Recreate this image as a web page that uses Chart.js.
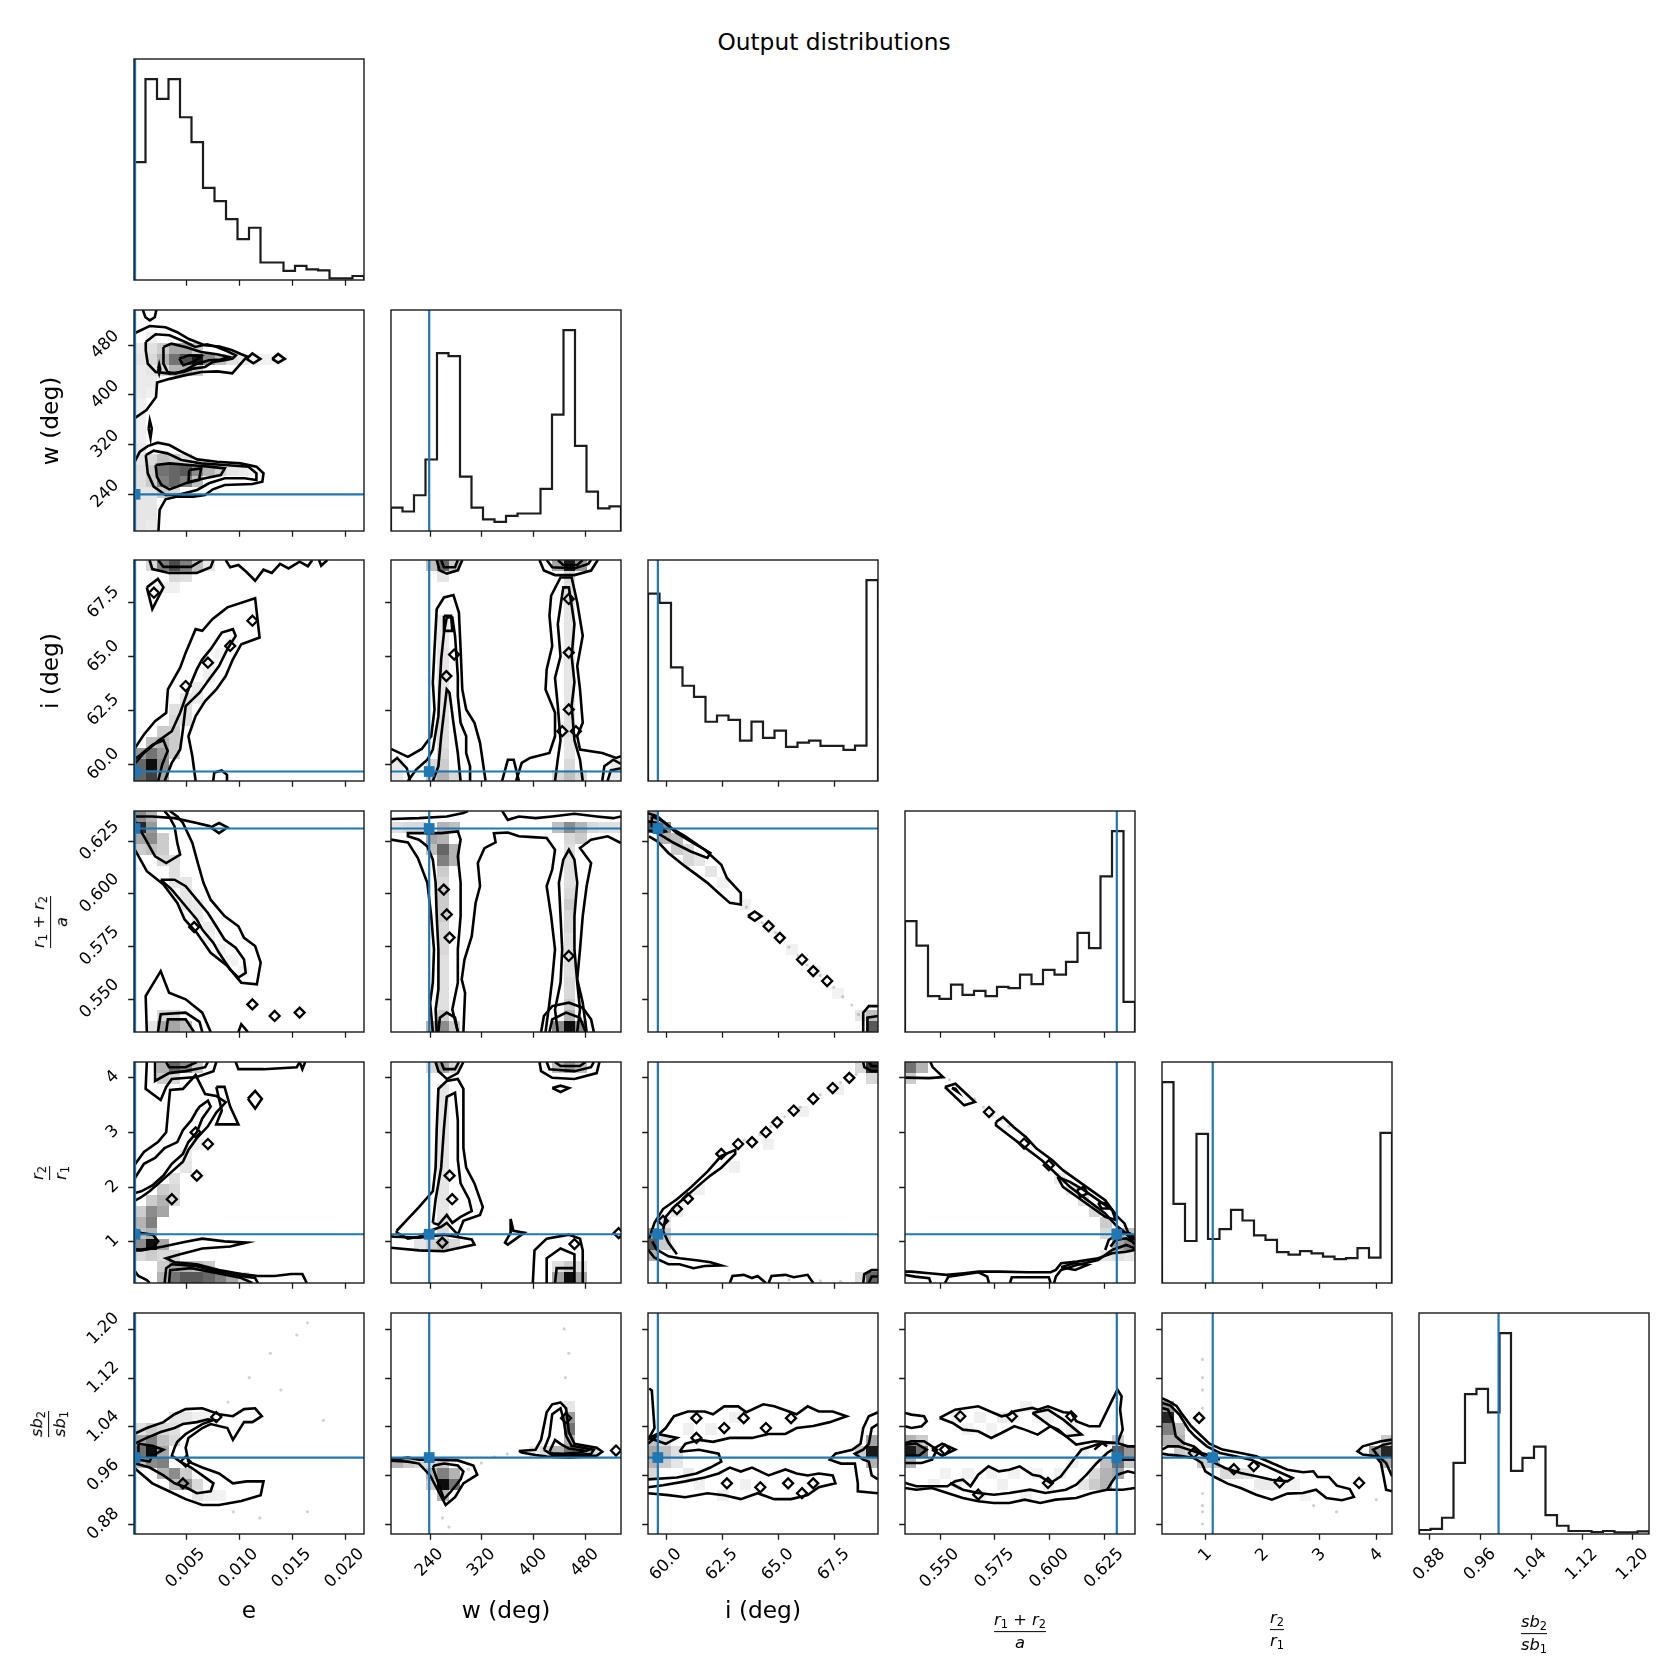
<!DOCTYPE html>
<html><head><meta charset="utf-8">
<script src="https://cdn.jsdelivr.net/npm/chart.js@4.4.1/dist/chart.umd.min.js"></script>
<style>
html,body{margin:0;padding:0;background:#fff;}
#root{position:relative;width:1668px;height:1668px;overflow:hidden;background:#fff;font-family:"DejaVu Sans",sans-serif;color:#000;}
#root canvas{position:absolute;}
.lbl{position:absolute;white-space:nowrap;line-height:1;font-size:23.3px;z-index:5;}
.frac{display:inline-flex;flex-direction:column;align-items:center;font-size:16.3px;line-height:1.15;padding:0 2px;}
.frac .bar{align-self:stretch;height:1.3px;background:#000;margin:1px 0 2px 0;}
.frac i{font-style:italic;}
.frac sub{font-size:11.4px;vertical-align:-0.28em;line-height:0;font-style:normal;}
</style></head><body><div id="root"></div>
<script>
// ================= DATA =================
const paramOrder = ['e','w','i','r','q','s'];

const rangeE = [0.00012, 0.02184];
const rangeW = [180.5, 535.7];
const rangeI = [59.21, 69.47];
const rangeR = [0.5342, 0.6391];
const rangeQ = [0.24, 4.275];
const rangeS = [0.8636, 1.2261];

const ticksE = [0.005, 0.010, 0.015, 0.020];
const tickLabelsE = ['0.005','0.010','0.015','0.020'];
const ticksW = [240, 320, 400, 480];
const tickLabelsW = ['240','320','400','480'];
const ticksI = [60, 62.5, 65, 67.5];
const tickLabelsI = ['60.0','62.5','65.0','67.5'];
const ticksR = [0.55, 0.575, 0.6, 0.625];
const tickLabelsR = ['0.550','0.575','0.600','0.625'];
const ticksQ = [1, 2, 3, 4];
const tickLabelsQ = ['1','2','3','4'];
const ticksS = [0.88, 0.96, 1.04, 1.12, 1.20];
const tickLabelsS = ['0.88','0.96','1.04','1.12','1.20'];

const truthE = 0.00022, truthW = 239.5, truthI = 59.65, truthR = 0.6308, truthQ = 1.13, truthS = 0.989;

const histE = [58.7,100,90.2,100,81.0,68.6,45.9,39.3,30.3,20.3,26.0,8.7,8.7,4.5,7.0,5.3,4.8,0.8,0.8,2.0];
const histW = [11.6,9.7,17.8,35.6,88.5,87.0,27.1,11.6,5.8,4.5,7.5,8.7,8.7,21.0,57.9,100,42.4,19.6,11.3,12.3];
const histI = [93.3,88.7,56.6,47.4,41.9,29.5,32.6,30.4,20.1,29.6,21.5,25.1,17.0,19.1,20.1,17.5,17.5,15.5,17.6,100];
const histR = [55.2,43.0,17.9,16.5,23.6,18.5,20.5,17.9,22.5,21.8,28.6,23.8,30.9,28.6,34.9,49.3,41.7,77.5,100,15.0];
const histQ = [100,39.4,20.9,74.2,21.9,26.8,36.4,31.1,23.7,21.5,15.4,14.1,15.9,14.7,13.1,11.9,12.4,17.4,12.6,74.7];
const histS = [2.0,2.6,8.1,35.4,69.6,72.2,60.5,100,31.4,37.9,43.5,9.4,4.1,1.5,1.5,1.0,1.5,0.8,0.8,1.3];

// ---- 2D panels: contour polylines [x,y], density cells [binX, binY, darkness], small loop markers [x,y]
const contoursWE = [
 [[0.00096,535.7],[0.0012,524],[0.00161,519],[0.00208,524],[0.00223,535.7]],
 [[0.00012,498],[0.0016,510],[0.0031,508],[0.0042,500],[0.0053,489],[0.0068,479],[0.0082,477],[0.0094,471],[0.0102,465],[0.0108,461],[0.0106,457],[0.0094,434],[0.008,437],[0.0065,436],[0.005,431],[0.0035,425],[0.0023,419],[0.0022,396],[0.0013,375],[0.00012,361]],
 [[0.00123,484.3],[0.00216,496.6],[0.00347,495],[0.00496,484.3],[0.0059,476.3],[0.00701,480.5],[0.00795,476.3],[0.00888,469.8],[0.00974,462.9],[0.00944,457.6],[0.00869,454.9],[0.00757,452.2],[0.00683,444.2],[0.00571,441.5],[0.00478,436.2],[0.00347,433.5],[0.00216,436.2],[0.00142,449.5],[0.00123,470.9],[0.00123,484.3]],
 [[0.0029,476.3],[0.00366,481.6],[0.00496,476.3],[0.00646,468.2],[0.00795,464.5],[0.00907,460.2],[0.00832,456],[0.0072,454.9],[0.00608,449.5],[0.00496,438.9],[0.00403,433.5],[0.00328,436.2],[0.0029,449.5],[0.0029,476.3]],
 [[0.0044,457.6],[0.00534,462.9],[0.00646,461.3],[0.00571,452.2],[0.00478,446.9],[0.0044,457.6]],
 [[0.0024,441],[0.0025,448],[0.0026,441],[0.0025,434],[0.0024,441]],
 [[0.01075,457],[0.0113,466],[0.01205,457],[0.0114,450],[0.01075,457]],
 [[0.01317,457],[0.01373,465],[0.01436,457],[0.01373,451],[0.01317,457]],
 [[0.0015,345],[0.00161,358],[0.0018,345],[0.00168,330],[0.0015,345]],
 [[0.00019,291.9],[0.00067,308],[0.00142,317],[0.00235,322.4],[0.00347,318.6],[0.00459,308],[0.00608,295.6],[0.00795,291.9],[0.01019,289.2],[0.01168,283.9],[0.01235,273.2],[0.01224,259.8],[0.01131,256],[0.00869,254.4],[0.00757,247.5],[0.00683,238.4],[0.00571,235.8],[0.00422,235.8],[0.0031,231.5],[0.00254,214.4],[0.00243,180.5]],
 [[0.00123,302.6],[0.00198,309.6],[0.00328,305.3],[0.00459,294.6],[0.00646,289.2],[0.00869,286.5],[0.01093,283.9],[0.01168,273.2],[0.01168,262.5],[0.01056,265.2],[0.00869,265.2],[0.0072,257.2],[0.00608,246.5],[0.00422,238.4],[0.0031,238.4],[0.00198,251.8],[0.00142,273.2],[0.00123,302.6]],
 [[0.00216,286.5],[0.00347,289.2],[0.00534,286.5],[0.0072,283.9],[0.00869,281.2],[0.00832,270.5],[0.00683,265.2],[0.00534,259.8],[0.00422,251.8],[0.00347,247.5],[0.00272,254.5],[0.00228,267.8],[0.00216,286.5]],
 [[0.00534,278.5],[0.00646,281.2],[0.00627,262.5],[0.00526,258.3],[0.00534,278.5]]
];
const cellsWE = [[5,15,0.9],[4,15,0.7],[3,15,0.55],[6,15,0.45],[2,15,0.3],[7,15,0.25],[8,15,0.12],[9,15,0.08],[3,16,0.35],[4,16,0.35],[2,16,0.2],[5,16,0.2],[1,16,0.12],[1,15,0.15],[3,14,0.3],[4,14,0.3],[5,14,0.2],[2,14,0.15],[1,14,0.1],[0,14,0.08],[0,15,0.1],[0,16,0.08],[1,17,0.06],[10,15,0.05],[11,15,0.05],[12,15,0.04],
 [2,5,0.55],[3,5,0.6],[4,5,0.65],[5,5,0.45],[6,5,0.3],[7,5,0.18],[8,5,0.1],[9,5,0.08],[10,5,0.05],[2,4,0.5],[3,4,0.6],[4,4,0.5],[5,4,0.25],[1,4,0.2],[1,5,0.2],[1,6,0.15],[2,6,0.25],[3,6,0.2],[4,6,0.12],[2,3,0.2],[3,3,0.15],[1,3,0.1],[0,3,0.1],[0,2,0.1],[1,2,0.1],[0,1,0.1],[1,1,0.1],[0,0,0.1],[1,0,0.08],[0,4,0.12],[0,5,0.12],[0,6,0.1],[0,7,0.08],[0,8,0.06],[0,9,0.06],[0,10,0.06],[0,11,0.06],[0,12,0.08],[0,13,0.08],[1,12,0.06],[1,13,0.08]];
const markersWE = [];

const contoursIE = [
 [[0.00159,69.47],[0.00185,69.05],[0.00343,68.87],[0.00605,68.87],[0.00736,69.13],[0.00762,69.47]],
 [[0.0024,69.47],[0.0029,69.15],[0.0055,69.15],[0.0066,69.47]],
 [[0.00878,69.47],[0.0092,69.13],[0.00998,69.24],[0.01077,68.9],[0.01156,68.51],[0.01235,69.02],[0.01313,68.87],[0.01392,69.29],[0.01471,69.08],[0.01576,69.39],[0.01654,69.18],[0.01696,69.47]],
 [[0.01759,69.47],[0.0178,69.2],[0.01838,69.47]],
 [[0.00133,68.2],[0.00238,68.59],[0.0029,68.2],[0.00185,67.19],[0.00133,68.2]],
 [[0.00012,60.67],[0.00106,61.37],[0.00211,61.99],[0.00316,62.38],[0.00332,63.46],[0.00448,64.47],[0.005,65.17],[0.00594,66.26],[0.00657,66.18],[0.00752,66.72],[0.00894,67.27],[0.01156,67.69],[0.01198,65.87],[0.01025,65.56],[0.00946,64.86],[0.00878,64.08],[0.00789,63.46],[0.00684,62.92],[0.00594,62.22],[0.00526,61.29],[0.00563,60.36],[0.00594,59.21]],
 [[0.00012,59.97],[0.00106,60.51],[0.00238,61.06],[0.00369,61.52],[0.00448,62.38],[0.00526,63.46],[0.00605,64.39],[0.00657,64.86],[0.00736,65.33],[0.00841,66.1],[0.00946,66.26],[0.00972,65.95],[0.00894,65.33],[0.00815,64.55],[0.0071,63.85],[0.00631,63.31],[0.005,62.69],[0.00474,61.6],[0.00448,60.67],[0.00369,60.05],[0.00301,59.21]],
 [[0.00012,60.2],[0.0008,60.45],[0.0019,60.9],[0.0029,61.1],[0.0033,60.6],[0.0028,60.0],[0.0024,59.21]],
 [[0.0076,59.21],[0.0077,59.6],[0.0084,59.7],[0.0089,59.5],[0.0089,59.21]]
];
const cellsIE = [[1,1,0.95],[0,1,0.6],[1,0,0.75],[0,0,0.6],[2,1,0.45],[2,0,0.35],[1,2,0.55],[0,2,0.4],[2,2,0.4],[3,2,0.2],[1,3,0.25],[2,3,0.3],[3,3,0.2],[2,4,0.2],[3,4,0.2],[3,5,0.15],[4,5,0.12],[3,6,0.12],[4,6,0.12],[4,7,0.1],[5,7,0.08],[5,8,0.08],[6,9,0.06],[6,10,0.05],[7,11,0.05],[8,12,0.04],[2,19,0.5],[3,19,0.7],[4,19,0.5],[5,19,0.25],[1,19,0.15],[6,19,0.1],[3,18,0.15],[4,18,0.12],[2,17,0.06],[3,17,0.06]];
const markersIE = [[0.005,63.62],[0.0071,64.7],[0.0092,65.48],[0.0113,66.65],[0.002,67.95]];

const contoursIW = [
 [[180.5,60.7],[206.6,60.33],[228,60.7],[242.6,61.29],[247.7,62.53],[245.1,63.77],[247.7,65.33],[251.1,67.19],[262.3,67.73],[276.9,67.84],[285.4,67.03],[288,65.33],[290.6,63.46],[296.6,62.53],[309.4,61.91],[318,60.98],[326.6,59.21]],
 [[206.6,59.21],[219.4,59.74],[236.6,60.2],[245.1,60.67],[253.7,62.22],[255.4,63.46],[258,64.86],[262.3,66.1],[266.6,66.8],[275.2,66.8],[279.4,65.95],[283.7,64.08],[283.7,63.15],[288,61.91],[296.6,61.29],[296.6,60.51],[302.6,59.89],[302.6,59.21]],
 [[245.1,59.21],[253.7,59.9],[258,61.29],[266.6,63.46],[270.9,63.3],[276.9,61.91],[283.7,60.5],[288,59.21]],
 [[251.1,69.47],[255.4,68.99],[266.6,68.84],[283.7,68.99],[290.6,69.47]],
 [[258,69.47],[262.3,69.13],[279.4,69.13],[283.7,69.47]],
 [[262.3,66.88],[273.3,66.88],[275.2,66.18],[262.3,66.18],[262.3,66.88]],
 [[409.8,69.47],[416.6,68.98],[433.8,68.77],[463.8,68.77],[489.5,68.98],[499.8,69.47]],
 [[420.9,69.47],[429.5,69.13],[463.8,69.08],[485.2,69.29],[489.5,69.47]],
 [[438.1,69.47],[446.6,69.24],[468.1,69.24],[476.6,69.47]],
 [[373.7,59.21],[382.3,60.05],[395.2,60.28],[425.2,60.51],[433.8,61.29],[433.8,62.38],[419.2,63.46],[420.9,64.39],[429.5,65.48],[425.2,66.88],[427.8,67.81],[442.3,68.66],[459.5,68.66],[468.1,67.5],[476.6,65.95],[468.1,64.55],[472.4,63.46],[476.6,61.91],[468.1,61.29],[472.4,60.67],[506.7,60.51],[528.1,60.28],[535.7,60.36]],
 [[433.8,59.21],[438,60.2],[442.3,61.1],[438.1,62.7],[433.8,64.0],[442.3,65.0],[438.1,66.5],[446.6,68.2],[455.2,68.2],[463.8,66.5],[459.5,65.0],[463.8,63.8],[459.5,62.7],[463.8,61.1],[472.4,60.2],[476.6,59.21]],
 [[352,59.21],[361,60.2],[370,60.2],[378,59.21]],
 [[506.7,59.21],[510,59.9],[523.8,60.2],[535.7,60.0]],
 [[515,59.21],[520,59.7],[535.7,59.8]],
 [[180.5,60.05],[190,60.28],[205,59.8],[210,59.21]]
];
const cellsIW = [[4,19,0.6],[3,19,0.25],[5,19,0.2],[15,19,0.9],[14,19,0.35],[16,19,0.4],[15,18,0.15],[4,18,0.1],[4,0,0.3],[3,0,0.2],[5,0,0.15],[4,1,0.2],[3,1,0.15],[4,2,0.15],[4,3,0.12],[4,4,0.12],[4,5,0.12],[4,6,0.1],[4,7,0.1],[4,8,0.1],[4,9,0.1],[4,10,0.1],[4,11,0.1],[4,12,0.08],[4,13,0.08],[4,14,0.08],[15,0,0.25],[14,0,0.15],[16,0,0.15],[15,1,0.15],[15,2,0.1],[15,3,0.1],[15,4,0.12],[15,5,0.12],[15,6,0.12],[15,7,0.1],[15,8,0.1],[15,9,0.1],[15,10,0.1],[15,11,0.1],[15,12,0.1],[15,13,0.1],[15,14,0.1],[15,15,0.1],[15,16,0.12],[15,17,0.12],[0,0,0.08],[0,1,0.08],[19,0,0.08],[19,1,0.08]];
const markersIW = [[278,65.08],[266,64.08],[455,67.66],[455,65.17],[455,62.53],[445,61.52],[466,61.52]];

const contoursRE = [
 [[0.00012,0.6365],[0.00185,0.6365],[0.00395,0.6357],[0.00605,0.6334],[0.00736,0.6318]],
 [[0.00736,0.6313],[0.00815,0.6334],[0.00894,0.6313],[0.00815,0.6286],[0.00736,0.6313]],
 [[0.00012,0.6215],[0.00133,0.6105],[0.0029,0.6042],[0.00421,0.5955],[0.0049,0.5876],[0.00605,0.5813],[0.00736,0.5718],[0.00894,0.5655],[0.01025,0.5576],[0.01172,0.5568],[0.01208,0.5671],[0.01156,0.575],[0.01051,0.5789],[0.00998,0.5844],[0.00867,0.5892],[0.00736,0.597],[0.00668,0.605],[0.00615,0.6144],[0.00563,0.6239],[0.00474,0.6334],[0.00421,0.6365],[0.0035,0.6391]],
 [[0.00012,0.6349],[0.00106,0.6271],[0.00211,0.6176],[0.00316,0.6144],[0.00448,0.6184],[0.00421,0.6239],[0.00395,0.6318],[0.00343,0.6365],[0.003,0.6391]],
 [[0.00264,0.6065],[0.00369,0.6018],[0.005,0.5939],[0.00605,0.5876],[0.00657,0.5828],[0.00762,0.5765],[0.00815,0.5718],[0.0092,0.5639],[0.00998,0.56],[0.01067,0.5623],[0.01051,0.5686],[0.00972,0.5742],[0.00867,0.5781],[0.00789,0.5844],[0.0071,0.5907],[0.00605,0.597],[0.005,0.6034],[0.00395,0.6065],[0.00264,0.6065]],
 [[0.00133,0.5342],[0.00122,0.5513],[0.00264,0.5631],[0.00343,0.5528],[0.005,0.5497],[0.00657,0.5434],[0.00736,0.5342]],
 [[0.00238,0.5342],[0.00264,0.5426],[0.005,0.5434],[0.00631,0.539],[0.00657,0.5342]],
 [[0.00316,0.5342],[0.00332,0.5402],[0.005,0.5402],[0.00579,0.5342]],
 [[0.00998,0.5342],[0.01025,0.5379],[0.01088,0.5342]]
];
const cellsRE = [[0,18,0.85],[1,18,0.4],[0,19,0.45],[1,19,0.3],[0,17,0.35],[1,17,0.45],[2,17,0.2],[1,16,0.25],[2,16,0.2],[0,16,0.2],[2,15,0.15],[3,15,0.12],[3,14,0.12],[3,13,0.1],[4,13,0.1],[4,12,0.1],[4,11,0.1],[5,11,0.08],[5,10,0.08],[6,9,0.07],[6,8,0.06],[7,7,0.06],[8,6,0.05],[9,5,0.05],[2,0,0.35],[3,0,0.35],[4,0,0.25],[2,1,0.15],[3,1,0.15],[1,0,0.1]];
const markersRE = [[0.0058,0.584],[0.0113,0.5473],[0.0134,0.5418],[0.01576,0.5434]];

const contoursRW = [
 [[180.5,0.6353],[223.7,0.6357],[266.6,0.6365],[292.3,0.6381],[299.2,0.6391]],
 [[352.3,0.6391],[360.9,0.6349],[378,0.6365],[403.8,0.6357],[429.5,0.6365],[463.8,0.6378],[498.1,0.6365],[523.8,0.6357],[535.7,0.6365]],
 [[180.5,0.6255],[206.6,0.6242],[222,0.6168],[236.6,0.605],[242.6,0.5892],[246.9,0.5734],[245.1,0.5576],[240.9,0.5481],[245.1,0.5342]],
 [[292.3,0.5342],[294.9,0.5528],[289.7,0.5592],[294,0.5686],[305.2,0.5797],[311.2,0.5955],[318,0.6034],[314.6,0.6144],[324.9,0.6215],[342,0.6242],[339.5,0.6286],[360.9,0.6289],[378,0.6271],[399.5,0.6267],[420.9,0.6263],[433.8,0.6207],[429.5,0.6113],[420.9,0.6034],[427.8,0.5892],[433.8,0.5734],[429.5,0.5592],[425.2,0.5481],[419.2,0.5342]],
 [[482.6,0.5342],[476.6,0.5481],[468.1,0.5592],[472.4,0.5734],[476.6,0.5892],[482.6,0.6034],[489.5,0.6144],[472.4,0.6215],[489.5,0.6255],[515.2,0.6271],[535.7,0.6239]],
 [[251.1,0.5342],[249.4,0.5449],[253.7,0.5545],[253.7,0.5734],[251.1,0.5892],[249.4,0.605],[245.1,0.616],[236.6,0.6223],[223.7,0.6255],[206.6,0.6271],[206.6,0.6286],[258,0.6286],[283.7,0.6294],[288,0.6255],[283.7,0.6176],[288,0.605],[288,0.5892],[283.7,0.5734],[283.7,0.5576],[275.2,0.5449],[283.7,0.5342]],
 [[438.1,0.5342],[433.8,0.5449],[442.3,0.5576],[444.9,0.5734],[442.3,0.5892],[439.8,0.605],[446.6,0.616],[455.2,0.6207],[463.8,0.616],[468.1,0.605],[463.8,0.5892],[463.8,0.5734],[468.1,0.5576],[472.4,0.5449],[468.1,0.5342]],
 [[412.3,0.5342],[416.6,0.5418],[429.5,0.5465],[455.2,0.5481],[476.6,0.5457],[489.5,0.5402],[493.8,0.5342]],
 [[425.2,0.5342],[429.5,0.5402],[450.9,0.5434],[472.4,0.541],[481,0.5342]],
 [[253.7,0.5342],[256,0.541],[266.6,0.5434],[279.4,0.541],[283.7,0.5342]]
];
const cellsRW = [[4,0,0.45],[3,0,0.3],[5,0,0.2],[15,0,0.95],[14,0,0.45],[16,0,0.45],[15,1,0.3],[4,1,0.2],[4,16,0.6],[5,16,0.3],[3,16,0.25],[3,17,0.35],[4,17,0.3],[4,18,0.3],[5,18,0.25],[2,18,0.15],[1,18,0.15],[0,18,0.12],[15,18,0.45],[16,18,0.3],[14,18,0.25],[16,17,0.2],[17,18,0.15],[18,18,0.12],[19,18,0.12],[4,15,0.5],[5,15,0.3],[4,14,0.2],[4,13,0.15],[4,12,0.2],[4,11,0.2],[4,10,0.2],[4,9,0.15],[4,8,0.15],[4,7,0.15],[4,6,0.12],[4,5,0.12],[4,4,0.12],[4,3,0.12],[4,2,0.12],[15,17,0.15],[15,16,0.12],[15,15,0.12],[15,14,0.12],[15,13,0.12],[15,12,0.15],[15,11,0.2],[15,10,0.15],[15,9,0.15],[15,8,0.12],[15,7,0.12],[15,6,0.12],[15,5,0.12],[15,4,0.15],[15,3,0.15],[15,2,0.2]];
const markersRW = [[262,0.6018],[266.6,0.59],[270.9,0.579],[455,0.5703]];

const contoursRI = [
 [[59.21,0.6381],[59.63,0.6365],[60.25,0.631],[60.87,0.6271],[61.74,0.6207],[62.48,0.6136],[62.73,0.6073],[63.35,0.6002],[63.35,0.5947],[62.86,0.5955],[62.36,0.6002],[61.86,0.605],[61.37,0.6089],[60.87,0.6128],[60.12,0.6192],[59.63,0.6247],[59.25,0.6271]],
 [[59.38,0.6365],[59.88,0.6342],[60.5,0.6286],[61.24,0.6239],[61.99,0.6192],[61.86,0.6168],[61.12,0.6199],[60.37,0.6239],[59.88,0.6271],[59.38,0.6302],[59.38,0.6365]],
 [[59.21,0.6342],[59.63,0.6334],[60.0,0.6294],[59.63,0.6286],[59.21,0.6302]],
 [[63.67,0.5892],[63.97,0.5914],[64.27,0.5892],[63.97,0.587],[63.67,0.5892]],
 [[68.81,0.5342],[68.81,0.5434],[69.06,0.5465],[69.47,0.5465]],
 [[69.0,0.5342],[69.0,0.541],[69.47,0.5418]]
];
const cellsRI = [[0,18,0.65],[1,18,0.45],[0,19,0.3],[1,17,0.3],[2,17,0.25],[2,16,0.2],[3,16,0.15],[3,15,0.15],[4,15,0.1],[5,14,0.1],[19,0,0.65],[19,1,0.25],[18,1,0.1],[6,13,0.06],[8,11,0.06],[10,9,0.05],[12,7,0.05],[14,5,0.05],[16,3,0.05]];
const markersRI = [[64.59,0.5844],[65.09,0.5789],[66.08,0.5686],[66.58,0.5631],[67.2,0.5584]];
const dotsRI = [[63.6,0.5935],[64.3,0.586],[64.9,0.5815],[65.5,0.5745],[65.9,0.5705],[66.3,0.566],[66.9,0.561],[67.5,0.5555],[67.9,0.551],[68.3,0.547],[68.6,0.5425]];

const contoursQE = [
 [[0.00133,4.275],[0.00122,3.784],[0.00264,3.582],[0.00316,3.82],[0.00369,3.964],[0.00605,4.0],[0.00762,4.108],[0.00789,4.275]],
 [[0.00211,4.275],[0.00211,3.928],[0.00343,4.072],[0.005,4.108],[0.00684,4.18],[0.0071,4.275]],
 [[0.00316,4.275],[0.00343,4.18],[0.005,4.18],[0.00605,4.275]],
 [[0.00972,4.275],[0.00998,4.144],[0.01235,4.144],[0.01549,4.18],[0.01576,4.275]],
 [[0.01576,4.275],[0.01602,4.144],[0.01628,4.275]],
 [[0.00789,3.82],[0.00867,3.82],[0.0092,3.46],[0.00998,3.137],[0.00789,3.137],[0.00841,3.389],[0.00789,3.82]],
 [[0.01088,3.604],[0.01156,3.748],[0.01219,3.604],[0.01156,3.424],[0.01088,3.604]],
 [[0.00012,2.381],[0.00106,2.633],[0.00238,2.813],[0.00316,2.993],[0.00343,3.568],[0.00353,3.763],[0.00474,3.784],[0.00594,4.036],[0.00684,3.691],[0.00789,3.655],[0.00878,3.54],[0.00789,3.353],[0.0071,3.101],[0.00605,2.885],[0.00526,2.669],[0.00474,2.453],[0.00369,2.273],[0.00264,2.094],[0.00159,1.914],[0.0008,1.806],[0.00012,1.734]],
 [[0.00012,2.129],[0.00106,2.417],[0.00211,2.525],[0.00301,2.705],[0.00421,2.813],[0.00474,3.029],[0.00552,3.209],[0.00605,3.389],[0.00631,3.46],[0.0071,3.568],[0.00736,3.46],[0.00657,3.245],[0.00605,2.993],[0.00526,2.813],[0.00474,2.597],[0.00369,2.417],[0.0029,2.201],[0.00185,2.022],[0.0008,1.914],[0.00012,1.878]],
 [[0.00012,0.835],[0.0008,0.835],[0.0029,0.906],[0.005,0.993],[0.00657,1.05],[0.00867,1.0],[0.01077,0.978],[0.0092,0.906],[0.00657,0.87],[0.00448,0.763],[0.00316,0.691],[0.00395,0.619],[0.00605,0.583],[0.00815,0.475],[0.01025,0.403],[0.01182,0.367],[0.0134,0.367],[0.01497,0.403],[0.01602,0.403],[0.01644,0.24]],
 [[0.00012,0.475],[0.00054,0.367],[0.00133,0.295],[0.00159,0.24]],
 [[0.00301,0.24],[0.00316,0.511],[0.00369,0.583],[0.00605,0.547],[0.00815,0.439],[0.01025,0.367],[0.01156,0.331],[0.01182,0.24]],
 [[0.00343,0.24],[0.00353,0.475],[0.00552,0.511],[0.00789,0.421],[0.01025,0.331],[0.0113,0.24]],
 [[0.00012,1.23],[0.0008,1.15],[0.0019,1.12],[0.0024,1.0],[0.0019,0.88],[0.0008,0.85],[0.00012,0.86]]
];
const cellsQE = [[1,3,0.95],[0,3,0.45],[2,3,0.35],[1,4,0.3],[0,4,0.25],[1,5,0.5],[0,5,0.3],[1,6,0.45],[2,6,0.35],[0,6,0.2],[2,7,0.3],[1,7,0.2],[3,7,0.15],[2,8,0.2],[3,8,0.15],[3,9,0.12],[4,10,0.1],[4,11,0.08],[5,12,0.06],[3,0,0.55],[4,0,0.65],[5,0,0.65],[6,0,0.6],[7,0,0.5],[8,0,0.35],[2,0,0.3],[9,0,0.15],[3,1,0.35],[4,1,0.3],[5,1,0.25],[6,1,0.2],[2,1,0.2],[2,2,0.15],[3,2,0.15],[0,2,0.15],[1,2,0.2],[3,19,0.6],[4,19,0.45],[2,19,0.3],[5,19,0.2],[2,18,0.2],[3,18,0.15]];
const markersQE = [[0.00594,2.99],[0.0071,2.777],[0.00605,2.2],[0.00369,1.77]];

const contoursQW = [
 [[249.4,4.275],[253.7,4.108],[266.6,3.964],[283.7,4.072],[292.3,4.275]],
 [[258,4.275],[262.3,4.144],[279.4,4.144],[285.4,4.275]],
 [[409.8,4.275],[412.3,4.108],[429.5,3.986],[463.8,3.964],[498.1,4.072],[502.4,4.275]],
 [[420.9,4.275],[425.2,4.144],[463.8,4.108],[489.5,4.18],[493.8,4.275]],
 [[433.8,4.275],[442.3,4.201],[472.4,4.201],[481,4.275]],
 [[429.5,3.799],[442.3,3.842],[455.2,3.799],[442.3,3.727],[429.5,3.799]],
 [[189.4,1.194],[206.6,1.41],[223.7,1.626],[245.1,1.914],[249.4,2.345],[251.1,3.065],[253.7,3.784],[266.6,3.928],[283.7,3.964],[292.3,3.784],[292.3,2.705],[296.6,2.345],[309.4,2.058],[322.3,1.626],[318,1.482],[292.3,1.374],[283.7,1.122],[266.6,1.338],[258,1.266],[240.9,1.194],[223.7,1.086],[206.6,1.05],[189.4,1.158],[189.4,1.194]],
 [[245.1,1.338],[249.4,1.77],[258,2.345],[262.3,3.065],[266.6,3.64],[279.4,3.712],[283.7,3.209],[283.7,2.489],[288,2.058],[300.9,1.77],[305.2,1.554],[288,1.446],[275.2,1.338],[266.6,1.482],[253.7,1.302],[245.1,1.338]],
 [[180.5,0.885],[223.7,0.835],[262.3,0.82],[309.4,0.942],[305.2,1.036],[262.3,1.122],[223.7,1.065],[185.1,1.086],[180.5,1.09]],
 [[365.2,1.41],[369.5,1.194],[386.6,1.158],[378,1.086],[360.9,0.942],[356.6,0.978],[365.2,1.158],[365.2,1.41]],
 [[399.5,0.24],[402.1,0.835],[420.9,1.05],[455.2,1.122],[472.4,1.05],[476.6,0.835],[476.6,0.24]],
 [[420.9,0.24],[420.9,0.691],[442.3,0.871],[463.8,0.763],[463.8,0.24]],
 [[433.8,0.24],[436.3,0.511],[463.8,0.511]]
];
const cellsQW = [[15,0,0.95],[14,0,0.35],[16,0,0.35],[15,1,0.2],[14,1,0.12],[16,1,0.12],[4,19,0.35],[3,19,0.15],[5,19,0.15],[15,19,0.4],[14,19,0.25],[16,19,0.25],[4,3,0.25],[3,3,0.18],[5,3,0.15],[2,3,0.1],[4,4,0.15],[4,5,0.12],[4,6,0.1],[4,7,0.1],[4,8,0.1],[4,9,0.1],[4,10,0.1],[4,11,0.1],[4,12,0.1],[4,13,0.1],[4,14,0.1],[4,15,0.1],[4,16,0.1],[4,17,0.1]];
const markersQW = [[271,2.2],[275,1.77],[463.8,0.95],[259.7,0.978],[532,1.15]];

const contoursQI = [
 [[59.26,1.05],[59.5,1.338],[59.88,1.59],[60.5,1.77],[61.12,1.986],[61.86,2.273],[62.48,2.561],[63.1,2.669],[63.1,2.597],[62.48,2.345],[61.99,2.201],[61.37,1.986],[60.87,1.806],[60.37,1.626],[60.0,1.446],[59.88,1.194],[60.12,0.978],[60.5,0.763]],
 [[59.21,0.85],[59.5,0.7],[60.12,0.583],[60.62,0.583],[61.24,0.511],[61.74,0.55],[62.48,0.561],[62.0,0.62],[61.37,0.655],[60.62,0.691],[60.12,0.727],[59.6,0.85],[59.4,1.0]],
 [[68.81,4.275],[68.86,4.18],[69.19,4.108],[69.47,4.108]],
 [[69.06,4.275],[69.19,4.2],[69.47,4.2]],
 [[68.81,0.24],[68.86,0.403],[69.19,0.475],[69.47,0.475]],
 [[69.06,0.24],[69.19,0.36],[69.47,0.36]],
 [[62.86,0.24],[62.98,0.367],[63.48,0.389],[63.85,0.331],[64.1,0.367],[64.47,0.24]],
 [[64.59,0.24],[64.72,0.367],[65.34,0.389],[65.71,0.346],[66.33,0.389],[66.58,0.24]]
];
const cellsQI = [[0,3,0.65],[0,4,0.4],[1,4,0.2],[0,2,0.3],[1,3,0.2],[19,19,0.8],[19,0,0.6],[18,19,0.15],[19,18,0.15],[18,0,0.12],[1,5,0.1],[2,6,0.08],[4,8,0.06],[7,10,0.06],[10,12,0.06],[13,15,0.06],[16,17,0.06]];
const markersQI = [[59.88,1.374],[60.5,1.59],[60.99,1.78],[62.48,2.597],[63.23,2.777],[63.85,2.813],[64.47,2.993],[64.97,3.173],[65.71,3.389],[66.58,3.604],[67.45,3.8],[68.19,3.986]];
const dotsQI = [[63.5,2.85],[64.2,2.95],[64.7,3.1],[65.3,3.28],[66.0,3.45],[66.9,3.68],[67.8,3.9],[68.5,4.05],[65.5,0.3],[66.9,0.28],[67.8,0.27]];

const contoursQR = [
 [[0.5458,4.275],[0.5468,4.182],[0.5516,4.0],[0.5452,3.98],[0.5342,3.99]],
 [[0.5524,3.818],[0.5572,3.879],[0.5661,3.545],[0.5612,3.484],[0.5524,3.818]],
 [[0.5556,3.8],[0.5572,3.787],[0.5583,3.727],[0.5556,3.8]],
 [[0.5757,3.18],[0.5789,3.271],[0.5837,3.089],[0.5893,2.907],[0.5942,2.695],[0.6014,2.482],[0.6062,2.3],[0.6126,2.118],[0.619,1.936],[0.6255,1.753],[0.6311,1.45],[0.6343,1.328],[0.6367,1.086],[0.6391,1.025]],
 [[0.6391,0.934],[0.6351,1.146],[0.6303,1.298],[0.6255,1.51],[0.6174,1.753],[0.6094,1.996],[0.603,2.239],[0.5966,2.482],[0.5885,2.725],[0.5805,2.968],[0.5757,3.12],[0.5757,3.18]],
 [[0.6038,2.178],[0.6094,2.087],[0.6158,1.936],[0.6223,1.753],[0.6287,1.571],[0.6303,1.389],[0.6255,1.45],[0.619,1.632],[0.6126,1.814],[0.6062,1.996],[0.6038,2.178]],
 [[0.6126,1.936],[0.6158,1.996],[0.6174,1.875],[0.6142,1.814],[0.6126,1.936]],
 [[0.6223,1.7],[0.6255,1.7],[0.627,1.6],[0.6239,1.6],[0.6223,1.7]],
 [[0.6391,0.843],[0.6351,0.813],[0.6287,0.782],[0.6223,0.691],[0.6126,0.63],[0.6054,0.6],[0.603,0.479],[0.6006,0.436],[0.5901,0.436],[0.5773,0.448],[0.5677,0.448],[0.5612,0.418],[0.5532,0.388],[0.5452,0.418],[0.5372,0.448],[0.5342,0.448]],
 [[0.6391,0.873],[0.6351,0.934],[0.6287,0.843],[0.6223,0.661],[0.6126,0.57],[0.6054,0.479],[0.603,0.357],[0.6022,0.24]],
 [[0.5342,0.388],[0.5388,0.357],[0.5452,0.327],[0.546,0.24]],
 [[0.5524,0.24],[0.554,0.357],[0.5677,0.436],[0.5717,0.357],[0.5725,0.24]],
 [[0.5821,0.24],[0.5829,0.345],[0.5998,0.345],[0.6006,0.24]],
 [[0.6054,0.527],[0.611,0.6],[0.6174,0.57],[0.6118,0.479],[0.6054,0.527]],
 [[0.6255,0.843],[0.6271,1.025],[0.6319,1.146],[0.6367,1.146],[0.6391,1.056]],
 [[0.6279,0.904],[0.6303,1.025],[0.6351,1.056],[0.6391,0.964]]
];
const cellsQR = [[0,19,0.55],[1,19,0.3],[0,18,0.2],[18,3,0.35],[19,3,0.45],[18,4,0.3],[19,4,0.25],[17,4,0.15],[17,5,0.2],[16,6,0.15],[15,7,0.12],[14,8,0.1],[13,9,0.08],[18,2,0.12],[17,2,0.1],[19,2,0.1]];
const markersQR = [[0.5725,3.362],[0.5885,2.786],[0.5998,2.391]];
const dotsQR = [[0.5545,3.95],[0.566,3.6],[0.57,3.45],[0.574,3.3],[0.578,3.22],[0.5815,3.1]];

const contoursSE = [
 [[0.00012,1.0277],[0.00133,1.0374],[0.0029,1.0471],[0.00395,1.0601],[0.005,1.0685],[0.00657,1.0698],[0.00815,1.0601],[0.00946,1.0568],[0.01051,1.0685],[0.01156,1.0698],[0.01219,1.0568],[0.0113,1.0471],[0.01051,1.0471],[0.00946,1.018],[0.00894,1.0374],[0.00736,1.0439],[0.00657,1.0374],[0.00526,1.0212],[0.005,1.005],[0.00526,0.9823],[0.00657,0.9726],[0.00815,0.9629],[0.00946,0.9467],[0.01077,0.9499],[0.01235,0.9499],[0.01208,0.9273],[0.01025,0.9176],[0.00815,0.9111],[0.00657,0.9111],[0.005,0.9208],[0.00343,0.9337],[0.00185,0.9467],[0.00054,0.9661],[0.00012,0.9726]],
 [[0.00012,1.0115],[0.00133,1.0212],[0.00264,1.0309],[0.00395,1.0374],[0.00474,1.0439],[0.00605,1.0471],[0.0071,1.0517],[0.00762,1.0504],[0.00657,1.0439],[0.005,1.0277],[0.00421,1.0147],[0.00395,1.005],[0.00369,0.9921],[0.00448,0.9823],[0.00552,0.9726],[0.00657,0.9597],[0.00762,0.9467],[0.00736,0.9337],[0.00605,0.9305],[0.005,0.9402],[0.00395,0.9467],[0.0029,0.9597],[0.00159,0.9726],[0.00028,0.9791],[0.00012,0.9823]],
 [[0.00054,1.0115],[0.00185,1.0083],[0.0029,1.0018],[0.00185,0.9921],[0.00159,0.9823],[0.00054,0.9856],[0.00054,1.0115]]
];
const cellsSE = [[1,7,0.95],[0,7,0.55],[1,8,0.5],[0,8,0.35],[2,7,0.35],[1,6,0.45],[2,6,0.5],[3,5,0.45],[2,5,0.3],[4,4,0.4],[3,4,0.25],[4,5,0.2],[2,8,0.25],[3,8,0.15],[1,9,0.2],[2,9,0.15],[3,9,0.12],[4,10,0.1],[3,10,0.1],[5,4,0.15],[5,3,0.1],[0,6,0.25],[0,9,0.12],[5,10,0.06],[6,10,0.05],[6,3,0.06],[7,3,0.05]];
const markersSE = [[0.00789,1.0555],[0.005,0.9823],[0.00474,0.9467]];
const dotsSE = [[0.009,1.08],[0.011,1.12],[0.013,1.16],[0.0155,1.19],[0.0165,1.21],[0.014,1.1],[0.018,1.05],[0.0095,0.9],[0.012,0.89],[0.0165,0.9]];

const contoursSW = [
 [[180.5,0.9837],[206.6,0.9823],[223.7,0.9791],[240.9,0.9597],[253.7,0.9337],[264.9,0.9111],[279.4,0.924],[292.3,0.9467],[313.7,0.961],[307.7,0.9759],[283.7,0.9843],[249.4,0.9856],[223.7,0.9856],[206.6,0.9888],[180.5,0.9856]],
 [[245.1,0.9726],[253.7,0.9467],[262.3,0.9208],[273.4,0.9337],[288,0.9532],[292.3,0.9661],[283.7,0.9759],[262.3,0.9791],[247.7,0.9759],[245.1,0.9726]],
 [[378,0.9998],[403.8,1.0018],[412.3,1.018],[420.9,1.0633],[429.5,1.0763],[442.3,1.0795],[450.9,1.0698],[455.2,1.0309],[463.8,1.0115],[498.1,1.005],[506.7,0.9985],[498.1,0.9921],[455.2,0.9888],[420.9,0.9908],[403.8,0.9933],[382.3,0.9972],[378,0.9998]],
 [[416.6,1.0018],[425.2,1.0245],[429.5,1.0601],[442.3,1.0698],[446.6,1.0536],[450.9,1.0245],[459.5,1.0083],[493.8,1.0018],[489.5,0.9953],[455.2,0.9921],[429.5,0.9933],[416.6,1.0018]],
 [[425.2,0.9985],[433.8,1.018],[442.3,1.0115],[455.2,1.0037],[481,0.9998],[472.4,0.9972],[446.6,0.9953],[429.5,0.9959],[425.2,0.9985]]
];
const cellsSW = [[4,4,0.95],[5,4,0.55],[4,5,0.5],[5,5,0.3],[3,5,0.3],[4,3,0.3],[3,4,0.2],[4,6,0.2],[3,6,0.15],[0,6,0.3],[1,6,0.2],[2,6,0.15],[15,7,0.55],[16,7,0.35],[14,7,0.3],[13,7,0.15],[17,7,0.12],[15,9,0.55],[15,10,0.4],[15,8,0.3],[15,11,0.1],[12,7,0.08]];
const markersSW = [[528,1.0005],[450.9,1.0536]];
const dotsSW = [[300,0.97],[320,0.98],[340,0.99],[360,0.995],[450,1.12],[455,1.16],[448,1.2],[260,0.89],[270,0.875]];

const contoursSI = [
 [[59.21,1.0115],[60.0,1.0374],[60.37,1.0568],[60.99,1.0646],[61.74,1.0646],[62.11,1.0601],[62.61,1.073],[63.23,1.073],[63.6,1.0633],[64.35,1.0763],[64.84,1.073],[65.34,1.0666],[65.84,1.0601],[66.33,1.073],[66.83,1.0646],[67.45,1.0646],[68.07,1.0568],[67.32,1.0471],[66.58,1.0406],[65.84,1.0374],[65.34,1.0277],[64.59,1.0277],[63.85,1.0212],[62.86,1.0212],[62.11,1.0147],[61.49,1.018],[60.87,1.0115],[60.62,0.9985]],
 [[59.26,1.0212],[59.63,1.0277],[60.5,1.0212],[60.0,1.0115],[59.26,1.0212]],
 [[59.21,0.9402],[59.88,0.9435],[60.87,0.9499],[61.74,0.9564],[62.36,0.9629],[62.86,0.9726],[63.35,0.9661],[63.85,0.9726],[64.59,0.9597],[65.34,0.9694],[65.84,0.9629],[66.33,0.9597],[66.83,0.9629],[67.45,0.9597],[67.57,0.9467],[66.83,0.9402],[66.33,0.9273],[65.59,0.9208],[64.84,0.9208],[64.1,0.9305],[63.35,0.9208],[62.61,0.9273],[61.86,0.9305],[60.87,0.924],[60.12,0.9273],[59.21,0.9305]],
 [[59.21,0.9532],[60.5,0.9564],[61.37,0.9629],[61.99,0.9726],[62.48,0.9823],[62.36,0.9953],[61.49,1.0018],[60.62,0.9985]],
 [[59.26,1.1022],[59.38,1.0989],[59.5,1.0374],[59.21,1.018]],
 [[69.47,1.0633],[69.06,1.0568],[68.81,1.0374],[68.69,1.0115],[68.32,1.0018],[67.57,0.9953],[67.32,0.9856],[67.82,0.9791],[68.44,0.9791],[68.57,0.9467],[68.57,0.9337],[69.47,0.9305]],
 [[69.47,1.0439],[69.19,1.0374],[69.06,1.0115],[68.81,1.0018],[68.44,0.9953],[68.81,0.9856],[69.06,0.9823],[69.19,0.9597],[69.47,0.9532]]
];
const cellsSI = [[19,7,0.9],[19,6,0.3],[19,8,0.35],[18,7,0.2],[0,6,0.3],[0,7,0.35],[1,7,0.25],[0,8,0.25],[1,6,0.2],[0,5,0.15],[2,7,0.12],[1,8,0.12],[2,6,0.1],[3,5,0.08],[3,9,0.06],[5,9,0.06],[7,10,0.06],[4,4,0.06],[6,3,0.06],[8,4,0.06]];
const markersSI = [[61.37,1.0536],[62.61,1.0374],[63.48,1.0536],[64.47,1.0374],[65.59,1.0536],[61.37,1.0212],[62.73,0.9467],[64.22,0.9402],[65.46,0.9467],[66.08,0.9305],[66.58,0.9467]];

const contoursSR = [
 [[0.55,1.054],[0.5571,1.0676],[0.5676,1.0731],[0.5782,1.0567],[0.5818,1.0594],[0.5841,1.0649],[0.5923,1.0704],[0.5947,1.0676],[0.5994,1.0731],[0.6064,1.0632],[0.61,1.0622],[0.6123,1.0485],[0.6182,1.0403],[0.6229,1.0403],[0.6288,1.084],[0.6311,1.1004],[0.633,1.0895],[0.6323,1.0676],[0.6335,1.0348],[0.6311,1.0129],[0.6206,1.0157],[0.6123,1.0102],[0.6076,1.0239],[0.6041,1.0348],[0.6006,1.0403],[0.5947,1.0266],[0.5888,1.0348],[0.5841,1.0403],[0.5782,1.0293],[0.5735,1.0211],[0.5676,1.0321],[0.5606,1.0348],[0.5559,1.0457],[0.55,1.054]],
 [[0.5342,1.0622],[0.5371,1.0594],[0.5429,1.0567],[0.5441,1.0485],[0.5418,1.0403],[0.5371,1.0375],[0.5342,1.0403]],
 [[0.5923,1.0622],[0.5994,1.0676],[0.6064,1.0512],[0.6147,1.0266],[0.6076,1.0239],[0.6017,1.0375],[0.5923,1.0622]],
 [[0.5342,1.0129],[0.5371,1.0157],[0.5429,1.0157],[0.5465,1.0074],[0.5488,1.002],[0.5465,0.9856],[0.5418,0.9801],[0.5342,0.9801]],
 [[0.5342,1.0102],[0.5394,1.0118],[0.5441,1.002],[0.5406,0.9921],[0.5342,0.9921]],
 [[0.5465,1.002],[0.5512,1.0118],[0.5571,1.002],[0.5512,0.9921],[0.5465,1.002]],
 [[0.5342,0.9473],[0.5394,0.9418],[0.5465,0.9418],[0.5535,0.9418],[0.5571,0.95],[0.5606,0.9527],[0.5641,0.9418],[0.5676,0.9609],[0.5723,0.9746],[0.577,0.9664],[0.5818,0.9691],[0.5865,0.9746],[0.5923,0.9609],[0.5959,0.9582],[0.6006,0.9473],[0.6053,0.9582],[0.6088,0.9746],[0.6123,0.991],[0.6147,1.002],[0.6194,1.0074],[0.6241,1.0129],[0.6264,1.0074]],
 [[0.5342,0.9391],[0.5394,0.9363],[0.5465,0.9391],[0.5535,0.9309],[0.5606,0.9227],[0.5676,0.9172],[0.5747,0.9145],[0.5818,0.9145],[0.5888,0.92],[0.5959,0.9145],[0.6029,0.92],[0.6123,0.9227],[0.6194,0.9309],[0.6264,0.9363],[0.6335,0.9363],[0.6391,0.9391]],
 [[0.5547,0.9473],[0.5606,0.9363],[0.5676,0.9309],[0.5747,0.9281],[0.5818,0.9309],[0.5912,0.9363],[0.5982,0.9309],[0.6076,0.9363],[0.6123,0.9445],[0.617,0.9609],[0.6217,0.9801],[0.6264,0.9965],[0.6288,1.002]],
 [[0.6206,1.002],[0.6241,1.0129],[0.6311,1.0129],[0.6358,1.0074],[0.6391,1.0074]],
 [[0.6311,0.9856],[0.6391,0.9856]],
 [[0.6264,0.9363],[0.6288,0.95],[0.6311,0.9609],[0.6358,0.9664],[0.6391,0.9637]]
];
const cellsSR = [[0,7,0.9],[1,7,0.55],[0,6,0.3],[0,8,0.3],[1,8,0.2],[18,6,0.55],[18,7,0.65],[19,7,0.4],[17,5,0.3],[17,4,0.3],[16,4,0.2],[18,5,0.35],[17,6,0.25],[18,8,0.2],[16,5,0.15],[19,6,0.2],[15,4,0.1],[2,4,0.06],[4,4,0.06],[6,3,0.06],[8,4,0.06],[10,3,0.06],[12,4,0.06],[4,10,0.06],[6,10,0.06],[8,10,0.08],[10,11,0.06],[12,10,0.06],[14,9,0.06],[3,5,0.05],[5,5,0.05],[7,5,0.05],[9,5,0.05],[11,5,0.05],[13,5,0.06],[14,6,0.06],[15,7,0.06],[5,9,0.05],[7,9,0.05],[9,10,0.05],[11,10,0.05]];
const markersSR = [[0.5594,1.0567],[0.5829,1.0567],[0.61,1.0567],[0.5524,1.002],[0.5676,0.9281],[0.5994,0.9473]];

const contoursSQ = [
 [[0.24,1.0862],[0.362,1.0813],[0.499,1.0731],[0.599,1.0594],[0.754,1.0403],[0.936,1.0239],[1.073,1.0118],[1.301,1.002],[1.62,0.9965],[1.893,0.991],[2.167,0.9801],[2.44,0.9691],[2.714,0.9648],[2.896,0.9664],[2.969,0.9571],[3.17,0.9571],[3.306,0.9429],[3.534,0.9374],[3.607,0.9243],[3.397,0.9189],[3.124,0.9227],[2.942,0.9363],[2.714,0.9309],[2.44,0.9298],[2.167,0.92],[1.893,0.9281],[1.62,0.9391],[1.392,0.9462],[1.164,0.9571],[1.0,0.9664],[0.936,0.9801],[0.799,0.9883],[0.526,0.9921],[0.344,0.9938],[0.24,0.9954]],
 [[0.24,1.0786],[0.389,1.0742],[0.544,1.0594],[0.708,1.0348],[0.818,1.0239],[1.027,1.0074],[1.255,0.9965],[1.529,0.991],[1.802,0.9856],[2.076,0.9746],[2.304,0.9648],[2.531,0.9555],[2.44,0.95],[2.167,0.9527],[1.893,0.9582],[1.62,0.9637],[1.346,0.9719],[1.164,0.9801],[1.027,0.9883],[0.891,0.9965],[0.708,1.002],[0.526,1.0074],[0.344,1.0074],[0.24,1.002]],
 [[0.24,1.0704],[0.344,1.0676],[0.435,1.0485],[0.48,1.0239],[0.617,1.0129],[0.799,1.0074],[0.936,0.9965],[1.119,0.991],[1.255,0.9856]],
 [[4.275,1.0184],[4.081,1.0157],[3.762,1.0074],[3.671,0.9993],[3.762,0.9938],[3.99,0.991],[4.081,0.9801],[4.127,0.9582],[4.172,0.9363],[4.275,0.9336]],
 [[4.275,1.0129],[4.127,1.0102],[3.944,1.002],[4.036,0.991],[4.172,0.9801],[4.275,0.9582]]
];
const cellsSQ = [[0,10,0.85],[0,9,0.5],[0,11,0.4],[0,8,0.3],[1,8,0.3],[1,9,0.25],[1,7,0.2],[2,7,0.15],[3,6,0.2],[4,6,0.2],[5,5,0.15],[6,5,0.12],[7,5,0.1],[8,4,0.08],[9,4,0.08],[10,4,0.06],[11,4,0.05],[12,3,0.05],[19,7,0.85],[18,7,0.4],[19,6,0.3],[19,8,0.2]];
const markersSQ = [[0.891,1.054],[0.799,0.9965],[1.5,0.97],[1.85,0.975],[2.304,0.9484],[3.698,0.9473]];
const dotsSQ = [[0.95,1.15],[0.95,1.12],[0.95,1.1],[0.95,1.07],[0.95,0.93],[0.95,0.91],[0.95,0.9],[0.95,0.88],[2.9,0.91],[3.3,0.9],[4.0,0.92]];

// axis label texts
const axisLabelPlain = {e:'e', w:'w (deg)', i:'i (deg)'};
const axisLabelFrac = {
  r:['<i>r</i><sub>1</sub> + <i>r</i><sub>2</sub>','<i>a</i>'],
  q:['<i>r</i><sub>2</sub>','<i>r</i><sub>1</sub>'],
  s:['<i>sb</i><sub>2</sub>','<i>sb</i><sub>1</sub>']
};
const titleText = 'Output distributions';

// ================= BUILD =================
const VARS = {
  e:{range:rangeE, ticks:ticksE, tickLabels:tickLabelsE, truth:truthE, hist:histE},
  w:{range:rangeW, ticks:ticksW, tickLabels:tickLabelsW, truth:truthW, hist:histW},
  i:{range:rangeI, ticks:ticksI, tickLabels:tickLabelsI, truth:truthI, hist:histI},
  r:{range:rangeR, ticks:ticksR, tickLabels:tickLabelsR, truth:truthR, hist:histR},
  q:{range:rangeQ, ticks:ticksQ, tickLabels:tickLabelsQ, truth:truthQ, hist:histQ},
  s:{range:rangeS, ticks:ticksS, tickLabels:tickLabelsS, truth:truthS, hist:histS}
};
const PAIRS = {
  w_e:{contours:contoursWE, cells:cellsWE, markers:markersWE, dots:[]},
  i_e:{contours:contoursIE, cells:cellsIE, markers:markersIE, dots:[]},
  i_w:{contours:contoursIW, cells:cellsIW, markers:markersIW, dots:[]},
  r_e:{contours:contoursRE, cells:cellsRE, markers:markersRE, dots:[]},
  r_w:{contours:contoursRW, cells:cellsRW, markers:markersRW, dots:[]},
  r_i:{contours:contoursRI, cells:cellsRI, markers:markersRI, dots:dotsRI},
  q_e:{contours:contoursQE, cells:cellsQE, markers:markersQE, dots:[]},
  q_w:{contours:contoursQW, cells:cellsQW, markers:markersQW, dots:[]},
  q_i:{contours:contoursQI, cells:cellsQI, markers:markersQI, dots:dotsQI},
  q_r:{contours:contoursQR, cells:cellsQR, markers:markersQR, dots:dotsQR},
  s_e:{contours:contoursSE, cells:cellsSE, markers:markersSE, dots:dotsSE},
  s_w:{contours:contoursSW, cells:cellsSW, markers:markersSW, dots:dotsSW},
  s_i:{contours:contoursSI, cells:cellsSI, markers:markersSI, dots:[]},
  s_r:{contours:contoursSR, cells:cellsSR, markers:markersSR, dots:[]},
  s_q:{contours:contoursSQ, cells:cellsSQ, markers:markersSQ, dots:dotsSQ}
};

const GRID = {left:134, top:59, dx:256.9, dy:250.7, w:230, h:221};
const BLUE = '#1f77b4';
const TICK_FONT = 16.7;
const NBINS = 20;
const root = document.getElementById('root');

function cornerPlugin(cfg){
  return {
    id:'corner',
    beforeDatasetsDraw(chart){
      if (!cfg.cells) return;
      const {ctx, chartArea:a} = chart, xs = chart.scales.x, ys = chart.scales.y;
      const dx = (cfg.xr[1]-cfg.xr[0])/NBINS, dy = (cfg.yr[1]-cfg.yr[0])/NBINS;
      ctx.save();
      ctx.beginPath(); ctx.rect(a.left, a.top, a.right-a.left, a.bottom-a.top); ctx.clip();
      for (const [ix, iy, v] of cfg.cells) {
        const x0 = Math.round(xs.getPixelForValue(cfg.xr[0]+ix*dx));
        const x1 = Math.round(xs.getPixelForValue(cfg.xr[0]+(ix+1)*dx));
        const y0 = Math.round(ys.getPixelForValue(cfg.yr[0]+iy*dy));
        const y1 = Math.round(ys.getPixelForValue(cfg.yr[0]+(iy+1)*dy));
        const g = Math.round(255*(1-v));
        ctx.fillStyle = `rgb(${g},${g},${g})`;
        ctx.fillRect(x0, y1, x1-x0, y0-y1);
      }
      ctx.restore();
    },
    afterDraw(chart){
      const {ctx, chartArea:a} = chart, xs = chart.scales.x, ys = chart.scales.y;
      ctx.save();
      ctx.strokeStyle = '#1a1a1a';
      ctx.lineWidth = 1.4;
      ctx.strokeRect(a.left, a.top, a.right-a.left, a.bottom-a.top);
      ctx.lineWidth = 1.3;
      ctx.beginPath();
      for (const v of cfg.xTicks) { const p = Math.round(xs.getPixelForValue(v)) + 0.5; ctx.moveTo(p, a.bottom); ctx.lineTo(p, a.bottom+5.8); }
      if (cfg.yTicks) for (const v of cfg.yTicks) { const p = Math.round(ys.getPixelForValue(v)) + 0.5; ctx.moveTo(a.left, p); ctx.lineTo(a.left-5.8, p); }
      ctx.stroke();
      ctx.fillStyle = '#000';
      ctx.font = TICK_FONT + 'px "DejaVu Sans"';
      ctx.textAlign = 'center'; ctx.textBaseline = 'middle';
      const c = Math.SQRT1_2;
      if (cfg.xLabels) cfg.xTicks.forEach((v,k)=>{
        const t = cfg.xLabels[k], L = ctx.measureText(t).width, side = (L + TICK_FONT)*c;
        ctx.save(); ctx.translate(xs.getPixelForValue(v), a.bottom + 11.6 + side/2);
        ctx.rotate(-Math.PI/4); ctx.fillText(t, 0, 0); ctx.restore();
      });
      if (cfg.yLabels) cfg.yTicks.forEach((v,k)=>{
        const t = cfg.yLabels[k], L = ctx.measureText(t).width, side = (L + TICK_FONT)*c;
        ctx.save(); ctx.translate(a.left - 11.6 - side/2, ys.getPixelForValue(v));
        ctx.rotate(-Math.PI/4); ctx.fillText(t, 0, 0); ctx.restore();
      });
      ctx.restore();
    }
  };
}

const lineDS = (pts, color, width) => ({data: pts.map(([x,y])=>({x,y})), showLine:true, borderColor:color, borderWidth:width, borderJoinStyle:'miter', pointRadius:0, pointHoverRadius:0, fill:false, tension:0});

function makePanel(i, j){
  const xk = paramOrder[j], yk = paramOrder[i], X = VARS[xk];
  const L = Math.round(GRID.left + GRID.dx*j), T = Math.round(GRID.top + GRID.dy*i);
  const padL = 95, padT = 12, padR = 12, padB = 95;
  const cw = padL + GRID.w + padR, ch = padT + GRID.h + padB;
  const canvas = document.createElement('canvas');
  canvas.width = cw; canvas.height = ch;
  canvas.style.left = (L - padL)+'px'; canvas.style.top = (T - padT)+'px';
  canvas.style.width = cw+'px'; canvas.style.height = ch+'px';
  root.appendChild(canvas);
  const padding = {left:padL, top:padT, right:padR, bottom:padB};
  const datasets = [];
  let yr, cfg;
  if (i === j) {
    const counts = X.hist, n = counts.length, [a, b] = X.range;
    const edge = k => a + (b-a)*k/n;
    const pts = [[a,0]];
    counts.forEach((c,k)=>{ pts.push([edge(k), c]); pts.push([edge(k+1), c]); });
    pts.push([b,0]);
    const ymax = 1.1*Math.max(...counts);
    yr = [0, ymax];
    datasets.push(lineDS([[X.truth,0],[X.truth,ymax]], BLUE, 2.2));
    datasets.push(lineDS(pts, '#1c1c1c', 2.2));
    cfg = {xTicks:X.ticks, xLabels: i===5 ? X.tickLabels : null, yTicks:null, yLabels:null, cells:null};
  } else {
    const Y = VARS[yk], P = PAIRS[yk+'_'+xk];
    yr = Y.range;
    datasets.push({data:[{x:X.truth, y:Y.truth}], pointStyle:'rect', pointRadius:7.6, pointBackgroundColor:BLUE, pointBorderWidth:0, pointHoverRadius:0});
    datasets.push(lineDS([[X.truth, Y.range[0]],[X.truth, Y.range[1]]], BLUE, 2.2));
    datasets.push(lineDS([[X.range[0], Y.truth],[X.range[1], Y.truth]], BLUE, 2.2));
    if (P.markers.length) datasets.push({data:P.markers.map(([x,y])=>({x,y})), pointStyle:'rectRot', pointRadius:5, pointBorderColor:'#000', pointBackgroundColor:'rgba(0,0,0,0)', pointBorderWidth:2.3, pointHoverRadius:0});
    for (const cont of P.contours) datasets.push(lineDS(cont, '#000', 2.6));
    if (P.dots.length) datasets.push({data:P.dots.map(([x,y])=>({x,y})), pointStyle:'circle', pointRadius:1.6, pointBackgroundColor:'rgba(0,0,0,0.18)', pointBorderWidth:0, pointHoverRadius:0});
    cfg = {xTicks:X.ticks, xLabels: i===5 ? X.tickLabels : null, yTicks:Y.ticks, yLabels: j===0 ? Y.tickLabels : null, cells:P.cells, xr:X.range, yr:Y.range};
  }
  new Chart(canvas, {
    type:'scatter',
    data:{datasets},
    options:{
      animation:false, responsive:false, maintainAspectRatio:false, devicePixelRatio:1, events:[],
      layout:{padding, autoPadding:false},
      elements:{line:{borderWidth:2.4}},
      plugins:{legend:{display:false}, tooltip:{enabled:false}},
      scales:{
        x:{type:'linear', min:X.range[0], max:X.range[1], display:false},
        y:{type:'linear', min:yr[0], max:yr[1], display:false}
      }
    },
    plugins:[cornerPlugin(cfg)]
  });
}

for (let i = 0; i < 6; i++) for (let j = 0; j <= i; j++) makePanel(i, j);

// ---- text labels (HTML) ----
function addDiv(html, left, top, transform, cls){
  const d = document.createElement('div');
  d.className = cls || 'lbl';
  d.innerHTML = html;
  d.style.left = left+'px'; d.style.top = top+'px';
  d.style.transform = transform;
  root.appendChild(d);
  return d;
}
function fracHTML(parts){ return `<span class="frac"><span>${parts[0]}</span><span class="bar"></span><span>${parts[1]}</span></span>`; }

addDiv(titleText, 834, 30.3, 'translateX(-50%)');
const xFracY = {r:1629, q:1627, s:1631};
const yFracX = {r:48, q:47, s:46};
paramOrder.forEach((k, j)=>{
  const cxp = Math.round(GRID.left + GRID.dx*j) + GRID.w/2;
  if (axisLabelPlain[k]) addDiv(axisLabelPlain[k], cxp, 1598, 'translateX(-50%)');
  else addDiv(fracHTML(axisLabelFrac[k]), cxp, xFracY[k], 'translate(-50%,-50%)');
});
paramOrder.forEach((k, i)=>{
  if (i === 0) return;
  const cyp = Math.round(GRID.top + GRID.dy*i) + GRID.h/2;
  if (axisLabelPlain[k]) addDiv(axisLabelPlain[k], 49.9, cyp, 'translate(-50%,-50%) rotate(-90deg)');
  else addDiv(fracHTML(axisLabelFrac[k]), yFracX[k], cyp, 'translate(-50%,-50%) rotate(-90deg)');
});
</script></body></html>
